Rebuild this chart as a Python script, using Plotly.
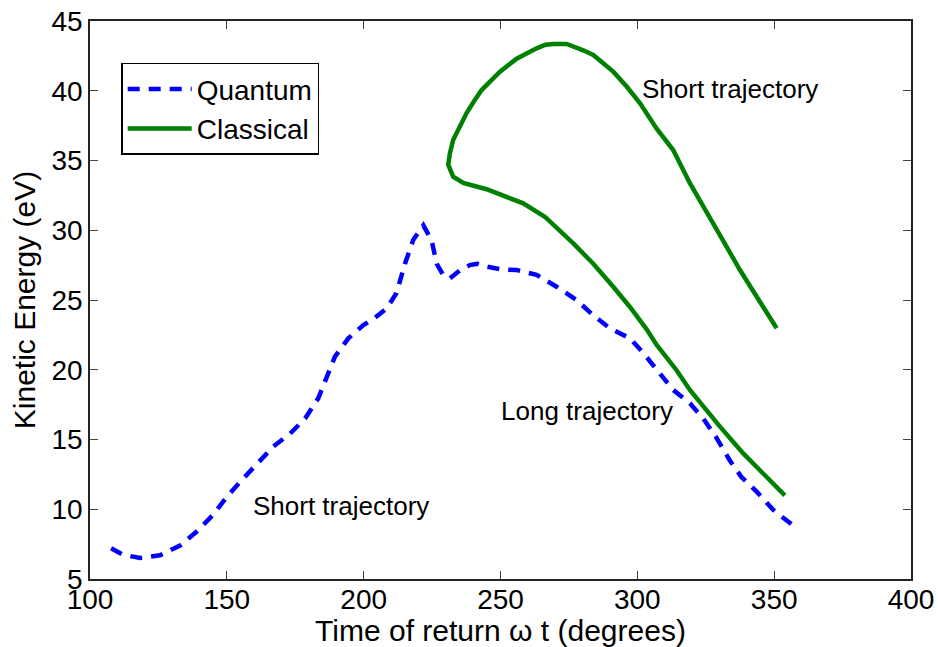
import plotly.graph_objects as go

# Quantum (dashed) return energies vs. time of return
quantum_t = [107.7, 112.0, 118.3, 125.6, 132.9, 139.0, 145.0, 150.0, 156.0, 161.5,
             167.0, 173.0, 178.6, 183.4, 186.5, 189.5, 194.4, 199.9, 204.0, 208.4,
             212.0, 215.1, 218.1, 221.8, 224.8, 226.7, 229.0, 231.5, 235.0, 238.8,
             241.5, 244.9, 250.0, 255.9, 263.2, 270.5, 277.8, 283.9, 290.0, 297.3,
             302.2, 308.3, 313.1, 319.2, 324.1, 329.0, 333.8, 338.1, 343.6, 349.7,
             357.6]
quantum_E = [7.2, 6.75, 6.5, 6.7, 7.4, 8.4, 9.6, 10.9, 12.2, 13.3,
             14.5, 15.4, 16.5, 17.95, 19.5, 20.94, 22.25, 23.2, 23.7, 24.4,
             25.5, 27.6, 29.3, 30.35, 29.3, 27.6, 26.8, 26.55, 27.1, 27.5,
             27.6, 27.4, 27.2, 27.15, 26.8, 25.95, 25.0, 23.9, 22.97, 22.25,
             21.2, 19.75, 18.55, 17.6, 16.5, 15.1, 13.5, 12.3, 11.26, 9.95,
             8.73]

# Classical trajectories: long branch (from late return) looping into the short branch
classical_t = [353.9, 347.2, 338.7, 330.2, 319.2, 314.4, 307.0, 303.4, 297.3, 291.2,
               283.9, 276.6, 271.7, 266.2, 258.3, 252.2, 244.9, 236.4, 232.7, 230.9,
               231.5, 232.7, 235.2, 237.6, 240.5, 243.1, 249.8, 255.9, 263.2, 266.5,
               269.3, 274.2, 280.2, 283.9, 291.2, 296.1, 301.0, 307.0, 313.1, 319.2,
               327.7, 337.5, 350.9]
classical_E = [11.0, 12.33, 14.0, 15.92, 18.55, 19.95, 21.8, 22.9, 24.5, 25.95,
               27.6, 29.06, 30.0, 30.97, 31.93, 32.4, 32.94, 33.4, 33.84, 34.7,
               35.5, 36.47, 37.4, 38.4, 39.3, 40.05, 41.37, 42.3, 43.04, 43.3,
               43.35, 43.35, 42.9, 42.56, 41.37, 40.3, 39.1, 37.3, 35.75, 33.37,
               30.5, 27.15, 22.97]

# Trajectory labels: (t, E, text)
labels = [
    (301.0, 40.1, "Short trajectory"),
    (249.4, 17.05, "Long trajectory"),
    (158.8, 10.2, "Short trajectory"),
]

x_ticks = [100, 150, 200, 250, 300, 350, 400]
y_ticks = [5, 10, 15, 20, 25, 30, 35, 40, 45]

FONT = "Liberation Sans, Arial, sans-serif"

fig = go.Figure()
fig.add_trace(go.Scatter(
    x=quantum_t, y=quantum_E, mode="lines", name="Quantum",
    line=dict(color="#0000ff", width=4.5, dash="12px,9px"),
))
fig.add_trace(go.Scatter(
    x=classical_t, y=classical_E, mode="lines", name="Classical",
    line=dict(color="#008000", width=4.5),
))

for t, e, txt in labels:
    fig.add_annotation(x=t, y=e, text=txt, showarrow=False,
                       xanchor="left", yanchor="middle",
                       font=dict(family=FONT, size=26, color="black"))

axis_common = dict(
    showgrid=False, zeroline=False, showline=True, linecolor="#222",
    linewidth=1.5, mirror="ticks", ticks="inside", ticklen=8,
    tickwidth=1, tickcolor="#444", automargin=False,
    tickfont=dict(family=FONT, size=28, color="black"),
)

fig.update_xaxes(range=[100, 400], tickvals=x_ticks, ticklabelstandoff=-5,
                 title=dict(text="Time of return ω t (degrees)",
                            font=dict(family=FONT, size=30, color="black"),
                            standoff=0),
                 **axis_common)
fig.update_yaxes(range=[5, 45], tickvals=y_ticks,
                 title=dict(text="Kinetic Energy (eV)",
                            font=dict(family=FONT, size=30, color="black"),
                            standoff=7),
                 **axis_common)

fig.update_layout(
    width=938, height=647,
    margin=dict(l=90, r=27, t=21, b=68, autoexpand=False),
    paper_bgcolor="white", plot_bgcolor="white",
    showlegend=True,
    legend=dict(x=0.038, y=0.925, xanchor="left", yanchor="top",
                bgcolor="white", bordercolor="black", borderwidth=1.5,
                font=dict(family=FONT, size=28, color="black"),
                itemwidth=64, tracegroupgap=0),
)

fig.write_html("out.html")
